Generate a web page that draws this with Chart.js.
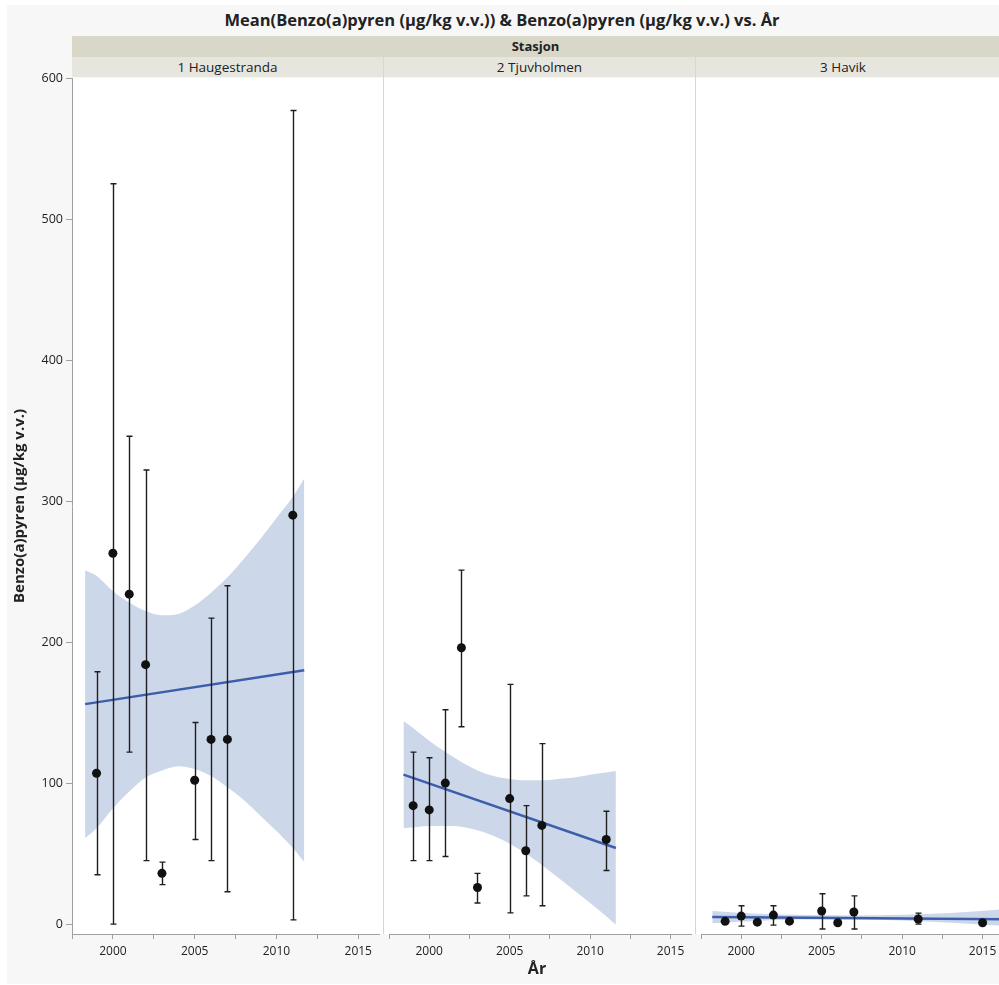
<!DOCTYPE html>
<html>
<head>
<meta charset="utf-8">
<script src="https://cdn.jsdelivr.net/npm/chart.js@4"></script>
<style>
  body { margin: 0; background: #fff; font-family: "Open Sans", sans-serif; color: #222; }
  #page { position: relative; width: 999px; height: 985px; overflow: hidden; background: #fff; }
  #frame { position: absolute; left: 7px; top: 5px; width: 992px; height: 979px; background: #f7f7f7; }
  #title { position: absolute; left: 0; top: 8px; width: 1004px; text-align: center; font-weight: bold; font-size: 16.5px; }
  #strip1 { position: absolute; left: 72px; top: 36px; width: 927px; height: 21px; background: #d9d7c8;
            text-align: center; font-weight: bold; font-size: 13px; line-height: 21px; }
  .cell { position: absolute; top: 57px; height: 20px; background: #e7e6de; text-align: center;
          font-size: 13.5px; line-height: 20px; }
  #plotbg { position: absolute; left: 72px; top: 78px; width: 927px; height: 856px; background: #fff; }
  .sep { position: absolute; top: 57px; width: 1px; height: 877px; background: #d6d6d6; }
  canvas { position: absolute; top: 60px; }
  #xtitle { position: absolute; left: 0; width: 1074px; top: 957px; text-align: center; font-weight: bold; font-size: 16px; }
</style>
</head>
<body>
<div id="page">
  <div id="frame"></div>
  <div id="title">Mean(Benzo(a)pyren (µg/kg v.v.)) &amp; Benzo(a)pyren (µg/kg v.v.) vs. År</div>
  <div id="strip1">Stasjon</div>
  <div class="cell" style="left:72px;width:311px;">1 Haugestranda</div>
  <div class="cell" style="left:384px;width:311px;">2 Tjuvholmen</div>
  <div class="cell" style="left:696px;width:294px;padding-right:9px;">3 Havik</div>
  <div id="plotbg"></div>
  <div class="sep" style="left:383px;"></div>
  <div class="sep" style="left:695px;"></div>
  <canvas id="c1" width="384" height="910" style="left:0px;"></canvas>
  <canvas id="c2" width="312" height="910" style="left:384px;"></canvas>
  <canvas id="c3" width="312" height="910" style="left:696px;"></canvas>
  <div id="xtitle">År</div>
</div>

<script>
const stations = ["1 Haugestranda", "2 Tjuvholmen", "3 Havik"];
const xTicks = [1997.5, 2000, 2002.5, 2005, 2007.5, 2010, 2012.5, 2015];
const yTicks = [0, 100, 200, 300, 400, 500, 600];

// 1 Haugestranda
const years1 = [1999, 2000, 2001, 2002, 2003, 2005, 2006, 2007, 2011];
const mean1 = [107, 263, 234, 184, 36, 102, 131, 131, 290];
const low1 = [35, 0, 122, 45, 28, 60, 45, 23, 3];
const high1 = [179, 525, 346, 322, 44, 143, 217, 240, 577];
const fitX1 = [1998.3, 2011.7];
const fit1 = [156, 180];
const bandX1 = [1998.3, 1999, 2000, 2001, 2002, 2003, 2004, 2005, 2006, 2007, 2008, 2009, 2010, 2011, 2011.7];
const bandHi1 = [251, 247, 236, 228, 222, 219, 220, 226, 235, 246, 259, 273, 288, 303, 316];
const bandLo1 = [61, 68, 82, 94, 104, 109, 112, 110, 105, 97, 88, 77, 66, 54, 44];

// 2 Tjuvholmen
const years2 = [1999, 2000, 2001, 2002, 2003, 2005, 2006, 2007, 2011];
const mean2 = [84, 81, 100, 196, 26, 89, 52, 70, 60];
const low2 = [45, 45, 48, 140, 15, 8, 20, 13, 38];
const high2 = [122, 118, 152, 251, 36, 170, 84, 128, 80];
const fitX2 = [1998.4, 2011.6];
const fit2 = [106, 54];
const bandX2 = [1998.4, 1999, 2000, 2001, 2002, 2003, 2004, 2005, 2006, 2007, 2008, 2009, 2010, 2011, 2011.6];
const bandHi2 = [144, 139, 130, 122, 115, 109, 105, 103, 102, 102, 103, 104, 106, 107.5, 108.5];
const bandLo2 = [68, 68.5, 69.5, 69.5, 69, 66.5, 62.5, 57, 50, 42, 33, 24, 15, 5.5, -0.5];

// 3 Havik
const years3 = [1999, 2000, 2001, 2002, 2003, 2005, 2006, 2007, 2011, 2015];
const mean3 = [2, 5.7, 1.4, 6.4, 2.1, 9.3, 1, 8.6, 3.6, 1];
const low3 = [null, -1.4, null, -0.7, null, -3.5, null, -3.5, 0, null];
const high3 = [null, 13, null, 13, null, 21.5, null, 20, 7.8, null];
const fitX3 = [1998.2, 2016.3];
const fit3 = [5.0, 3.5];
const bandX3 = [1998.2, 2001, 2004, 2007, 2010, 2013, 2016.3];
const bandHi3 = [9.3, 7.4, 6.4, 6.1, 6.6, 7.9, 10.5];
const bandLo3 = [0.7, 2.3, 3.2, 3.2, 2.5, 1.0, -1.2];

const FONT = "'Open Sans', sans-serif";
const AXIS = "#a0a0a0";

// error bars drawn just below the mean points
const errorBars = {
    id: "errorBars",
    beforeDatasetDraw(chart, args) {
        const ds = chart.data.datasets[args.index];
        if (!ds.errLow) return;
        const xs = chart.scales.x, ys = chart.scales.y, ctx = chart.ctx;
        ctx.save();
        ctx.strokeStyle = "#1e1e1e";
        ctx.lineWidth = 1.4;
        ds.data.forEach((p, i) => {
            if (ds.errLow[i] == null) return;
            const px = Math.round(xs.getPixelForValue(p.x)) + 0.5;
            const y1 = ys.getPixelForValue(ds.errLow[i]);
            const y2 = ys.getPixelForValue(ds.errHigh[i]);
            ctx.beginPath();
            ctx.moveTo(px, y1); ctx.lineTo(px, y2);
            ctx.moveTo(px - 3, y1); ctx.lineTo(px + 3, y1);
            ctx.moveTo(px - 3, y2); ctx.lineTo(px + 3, y2);
            ctx.stroke();
        });
        ctx.restore();
    }
};

function xy(xsArr, ysArr) {
    return xsArr.map((x, i) => ({ x: x, y: ysArr[i] }));
}

function makePanel(id, years, mean, low, high, fitX, fit, bandX, bandHi, bandLo, showY) {
    new Chart(document.getElementById(id), {
        type: "scatter",
        data: {
            datasets: [
                {
                    label: "mean", data: xy(years, mean), errLow: low, errHigh: high,
                    pointRadius: 4.5, pointBackgroundColor: "#111", pointBorderWidth: 0, order: 0
                },
                {
                    type: "line", label: "fit", data: xy(fitX, fit),
                    borderColor: "#3d5eab", borderWidth: 2.5, pointRadius: 0, fill: false, order: 1
                },
                {
                    type: "line", label: "upper", data: xy(bandX, bandHi),
                    borderColor: "transparent", borderWidth: 0, pointRadius: 0,
                    backgroundColor: "rgba(160, 178, 214, 0.52)", fill: "+1",
                    cubicInterpolationMode: "monotone", order: 2
                },
                {
                    type: "line", label: "lower", data: xy(bandX, bandLo),
                    borderColor: "transparent", borderWidth: 0, pointRadius: 0, fill: false,
                    cubicInterpolationMode: "monotone", order: 3
                }
            ]
        },
        options: {
            responsive: false,
            animation: false,
            events: [],
            layout: { padding: { top: 18, left: 0, right: 0, bottom: 0 } },
            plugins: { legend: { display: false }, tooltip: { enabled: false } },
            scales: {
                x: {
                    type: "linear", min: 1997.5, max: 2016.3,
                    afterBuildTicks: s => { s.ticks = xTicks.map(v => ({ value: v })); },
                    afterFit: s => { s.height = 36; },
                    ticks: {
                        autoSkip: false, maxRotation: 0, padding: 5, color: "#222",
                        font: { family: FONT, size: 12 },
                        callback: v => (v % 5 === 0 ? String(v) : "")
                    },
                    grid: { display: true, drawOnChartArea: false, drawTicks: true, tickLength: 5, color: AXIS },
                    border: { display: true, color: AXIS }
                },
                y: {
                    display: showY, min: -7, max: 600,
                    afterBuildTicks: s => { s.ticks = yTicks.map(v => ({ value: v })); },
                    afterFit: s => { s.width = showY ? 72 : 0; },
                    ticks: { padding: 3, color: "#222", font: { family: FONT, size: 12.5 } },
                    grid: { display: true, drawOnChartArea: false, drawTicks: true, tickLength: 6, color: AXIS },
                    border: { display: true, color: AXIS },
                    title: {
                        display: true, text: "Benzo(a)pyren (µg/kg v.v.)", color: "#222",
                        font: { family: FONT, size: 15, weight: "bold" }, padding: { top: 11, bottom: 0 }
                    }
                }
            }
        },
        plugins: [errorBars]
    });
}

makePanel("c1", years1, mean1, low1, high1, fitX1, fit1, bandX1, bandHi1, bandLo1, true);
makePanel("c2", years2, mean2, low2, high2, fitX2, fit2, bandX2, bandHi2, bandLo2, false);
makePanel("c3", years3, mean3, low3, high3, fitX3, fit3, bandX3, bandHi3, bandLo3, false);
</script>
</body>
</html>
